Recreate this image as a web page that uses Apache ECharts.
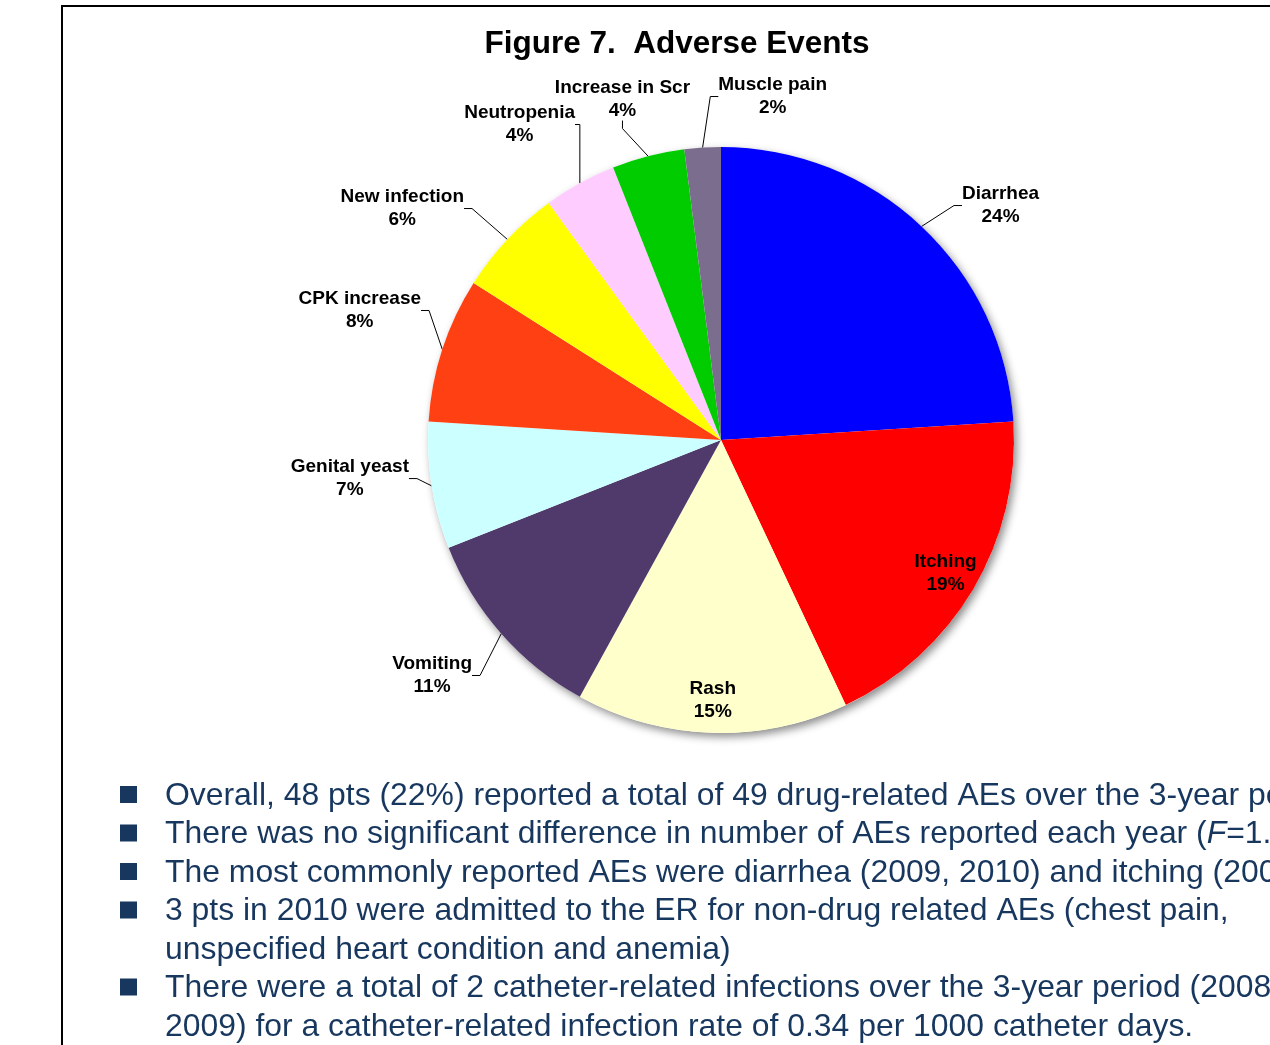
<!DOCTYPE html>
<html>
<head>
<meta charset="utf-8">
<script src="https://cdn.jsdelivr.net/npm/echarts@6/dist/echarts.min.js"></script>
<style>
  html, body { margin: 0; padding: 0; background: #ffffff; }
  #chart { width: 1270px; height: 1045px; }
</style>
</head>
<body>
<div id="chart"></div>
<script>
// ---- data ----
const chartTitle = 'Figure 7.  Adverse Events';
const categories = ['Diarrhea', 'Itching', 'Rash', 'Vomiting', 'Genital yeast', 'CPK increase', 'New infection', 'Neutropenia', 'Increase in Scr', 'Muscle pain'];
const percents = [24, 19, 15, 11, 7, 8, 6, 4, 4, 2];
const insideLabelCategories = ['Itching', 'Rash'];
const bulletTexts = [
  'Overall, 48 pts (22%) reported a total of 49 drug-related AEs over the 3-year period',
  'There was no significant difference in number of AEs reported each year ({i|F}=1.',
  'The most commonly reported AEs were diarrhea (2009, 2010) and itching (2008)',
  '3 pts in 2010 were admitted to the ER for non-drug related AEs (chest pain,',
  'unspecified heart condition and anemia)',
  'There were a total of 2 catheter-related infections over the 3-year period (2008 and',
  '2009) for a catheter-related infection rate of 0.34 per 1000 catheter days.'
];
const bulletFlags = [true, true, true, true, false, true, false];

// ---- styles / layout ----
const sliceColors = ['#0000FF', '#FF0000', '#FFFFCC', '#4F3A6B', '#CCFFFF', '#FF4013', '#FFFF00', '#FFCCFF', '#00CC00', '#7B6D8D'];
const FONT = '"Liberation Sans", Arial, sans-serif';
const textNavy = '#17375E';
const pieCenter = [721, 440];
const pieRadius = 293;
// small offsets applied to the library's default outside-label positions
const labelNudge = {
  'Diarrhea': [13.7, -6.3],
  'Muscle pain': [138.7, -31.1],
  'Increase in Scr': [59.9, -37.3],
  'Neutropenia': [17.8, -41.2],
  'New infection': [-15.8, -17.2],
  'CPK increase': [10.7, -32.8],
  'Genital yeast': [10.1, -10.4],
  'Vomiting': [-1.2, 28.5]
};

const labelRich = {
  n: { fontFamily: FONT, fontSize: 19, fontWeight: 'bold', color: '#000', align: 'center', lineHeight: 23 },
  p: { fontFamily: FONT, fontSize: 19, fontWeight: 'bold', color: '#000', align: 'center', lineHeight: 23 }
};

const mainData = categories.map((name, i) => {
  const inside = insideLabelCategories.indexOf(name) >= 0;
  return {
    name: name,
    value: percents[i],
    itemStyle: { color: sliceColors[i] },
    label: { show: !inside },
    labelLine: { show: !inside }
  };
});

const overlayData = categories.map((name, i) => ({
  name: name,
  value: percents[i],
  label: { show: insideLabelCategories.indexOf(name) >= 0 }
}));

const graphics = [];
graphics.push({
  type: 'rect', silent: true, z: 0,
  shape: { x: 62, y: 6, width: 1400, height: 1200 },
  style: { fill: 'none', stroke: '#000', lineWidth: 2 }
});
graphics.push({
  type: 'text', silent: true,
  x: 677, y: 44,
  style: {
    text: chartTitle, fill: '#000', font: 'bold 31.5px ' + FONT,
    textAlign: 'center', textVerticalAlign: 'middle'
  }
});
bulletTexts.forEach((t, i) => {
  const y = 796 + i * 38.5;
  if (bulletFlags[i]) {
    graphics.push({
      type: 'rect', silent: true,
      shape: { x: 120, y: y - 10, width: 17, height: 17 },
      style: { fill: textNavy }
    });
  }
  graphics.push({
    type: 'text', silent: true,
    x: 165, y: y,
    style: {
      text: t, fill: textNavy, font: '31.9px ' + FONT,
      textAlign: 'left', textVerticalAlign: 'middle',
      rich: { i: { fontStyle: 'italic', fontSize: 31.9, fontFamily: FONT, fill: textNavy } }
    }
  });
});

const chart = echarts.init(document.getElementById('chart'), null, { renderer: 'canvas' });
chart.setOption({
  animation: false,
  backgroundColor: '#ffffff',
  graphic: graphics,
  series: [
    {
      // plain disc underneath, gives the soft drop shadow of the pie
      type: 'pie', silent: true, z: 1,
      center: pieCenter, radius: pieRadius,
      data: [{ value: 1, name: '' }],
      label: { show: false }, labelLine: { show: false },
      itemStyle: { color: '#ffffff', borderWidth: 0, shadowBlur: 8, shadowColor: 'rgba(0,0,0,0.45)', shadowOffsetX: 3, shadowOffsetY: 4 },
      emphasis: { disabled: true }
    },
    {
      type: 'pie', z: 2,
      center: pieCenter, radius: pieRadius,
      startAngle: 90, clockwise: true,
      avoidLabelOverlap: false,
      data: mainData,
      itemStyle: { borderWidth: 0 },
      label: {
        position: 'outside',
        formatter: '{n|{b}}\n{p|{c}%}',
        rich: labelRich,
        color: '#000',
        distanceToLabelLine: 5
      },
      labelLine: {
        length: 20, length2: 8, smooth: false,
        lineStyle: { color: '#000', width: 1 }
      },
      labelLayout: function (p) {
        const name = categories[p.dataIndex];
        const n = labelNudge[name];
        if (!n || !p.labelRect) return {};
        const r = p.labelRect;
        const x = (p.align === 'right' ? r.x + r.width : r.x) + n[0];
        const y = r.y + r.height / 2 + n[1];
        return { x: x, y: y };
      },
      emphasis: { disabled: true }
    },
    {
      // transparent ring used only to place the two in-slice labels near the rim
      type: 'pie', z: 3, silent: true,
      center: pieCenter, radius: [pieRadius * 0.76, pieRadius],
      startAngle: 90, clockwise: true,
      avoidLabelOverlap: false,
      data: overlayData,
      itemStyle: { color: 'rgba(0,0,0,0)', borderWidth: 0 },
      label: {
        position: 'inside',
        formatter: '{n|{b}}\n{p|{c}%}',
        rich: labelRich,
        color: '#000',
        textBorderWidth: 0
      },
      labelLine: { show: false },
      emphasis: { disabled: true }
    }
  ]
});
</script>
</body>
</html>
